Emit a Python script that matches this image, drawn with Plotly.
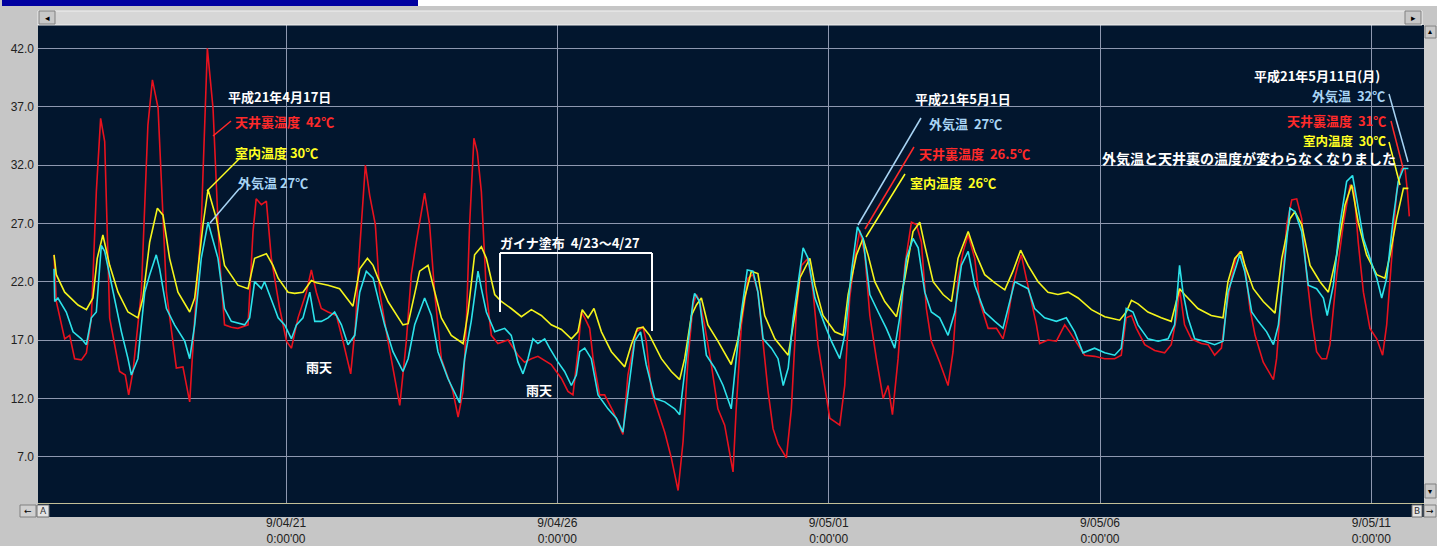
import pandas as pd
import plotly.graph_objects as go

START = pd.Timestamp("2009-04-16 00:00")

# (hours since 2009-04-16 00:00, temperature in degC)
attic = [  # 天井裏温度 (red)
    (17.4, 24.3), (18.4, 20.3), (22.1, 17.1), (24.3, 17.4), (26.5, 15.4), (29.5, 15.3), (31.7, 15.9), (33.9, 18.9),
    (36.1, 29.7), (38.0, 36.0), (39.8, 34.0), (42.0, 18.9), (46.4, 14.3), (48.9, 14.0), (50.4, 12.3), (52.3, 14.3),
    (56.0, 21.1), (58.9, 35.4), (60.9, 39.3), (63.4, 36.9), (67.1, 21.1), (71.5, 14.6), (74.4, 14.7), (77.4, 11.7),
    (79.6, 18.9), (82.5, 26.9), (85.2, 42.0), (87.7, 36.9), (90.6, 24.0), (92.8, 18.3), (95.8, 18.1), (98.7, 18.0),
    (103.2, 18.3), (105.4, 26.3), (106.8, 29.1), (109.1, 28.6), (111.3, 28.9), (113.5, 24.0), (117.2, 19.7),
    (120.2, 16.9), (122.4, 16.3), (125.3, 18.9), (129.0, 21.1), (131.2, 23.0), (133.4, 21.1), (135.6, 19.7),
    (138.6, 19.4), (142.3, 19.1), (145.2, 16.9), (148.6, 14.1), (150.7, 18.3), (152.3, 24.0), (155.1, 32.0),
    (157.0, 29.4), (159.5, 26.9), (161.4, 21.1), (165.1, 16.9), (170.3, 11.4), (173.2, 16.9), (175.4, 22.6),
    (177.6, 25.4), (181.3, 29.6), (183.5, 26.9), (185.7, 21.1), (188.7, 15.4), (193.8, 12.6), (196.1, 10.4),
    (198.3, 12.6), (199.7, 18.3), (201.2, 26.9), (203.1, 34.3), (204.6, 33.1), (206.4, 29.7), (208.6, 21.1),
    (210.8, 17.4), (213.7, 16.7), (218.2, 17.0), (219.6, 16.6), (222.6, 15.7), (225.5, 15.1),
    (228.5, 15.4), (231.4, 15.6), (237.3, 14.9), (241.8, 13.7), (244.7, 12.6), (246.9, 12.3), (249.1, 16.0),
    (250.6, 19.4), (252.1, 18.9), (254.3, 18.0), (255.8, 15.4), (258.7, 12.3), (260.9, 12.3), (264.6, 10.9),
    (269.0, 8.9), (271.2, 14.0), (274.9, 17.7), (277.9, 18.1), (279.3, 16.9), (281.6, 12.6), (284.5, 10.9),
    (287.5, 9.1), (290.4, 6.9), (293.4, 4.1), (295.6, 8.3), (297.8, 15.4), (300.0, 20.0), (301.5, 20.9),
    (302.9, 20.3), (305.1, 18.3), (308.1, 14.9), (311.0, 11.1), (314.0, 9.7), (316.2, 7.4), (317.7, 5.7),
    (319.1, 11.1), (321.4, 18.3), (324.3, 22.3), (326.5, 22.6), (328.7, 21.1),
    (331.0, 16.9), (333.2, 12.6), (335.4, 9.4), (337.6, 8.1), (341.3, 6.9), (343.5, 11.1), (345.8, 19.7),
    (348.0, 23.4), (350.9, 24.0), (353.1, 21.1), (355.3, 16.6), (358.3, 13.1), (360.5, 10.3), (362.7, 10.0),
    (364.9, 9.7), (367.1, 13.1), (369.3, 20.6), (371.5, 24.0), (373.8, 26.4), (376.0, 24.3), (378.2, 19.1),
    (381.1, 15.4), (384.1, 12.0), (386.3, 13.1), (388.2, 10.6), (390.7, 15.4), (393.7, 23.4), (396.6, 27.1),
    (398.8, 26.9), (401.0, 25.4), (403.2, 19.7), (405.4, 16.9), (409.1, 15.1), (412.8, 13.1), (415.0, 16.0),
    (417.2, 22.3), (419.5, 24.6), (421.7, 26.0), (424.6, 24.0), (426.8, 20.3), (430.5, 18.0), (434.2, 18.0),
    (437.1, 17.1), (439.3, 18.9), (441.5, 21.7), (443.7, 23.4), (445.2, 24.3), (447.4, 22.3), (449.6, 20.3),
    (451.9, 18.3), (453.3, 16.7), (457.0, 17.0), (460.7, 16.9), (464.4, 18.3), (466.6, 17.7), (470.3, 16.6),
    (473.2, 15.7), (477.6, 15.6), (482.1, 15.4), (486.5, 15.4), (489.4, 15.7), (491.6, 18.9), (493.9, 19.1),
    (496.1, 18.0), (499.8, 16.6), (504.2, 16.1), (508.6, 15.9), (511.5, 16.6), (513.8, 18.9), (515.2, 21.4),
    (517.4, 18.3), (520.4, 17.1), (524.8, 16.7), (527.8, 16.6), (530.7, 15.7), (533.7, 16.3), (535.9, 19.7),
    (538.1, 22.3), (540.3, 24.1), (541.9, 24.6), (544.1, 23.4), (546.3, 19.7), (548.6, 17.4), (552.2, 15.1),
    (554.5, 14.3), (556.7, 13.6), (558.1, 15.4), (560.4, 21.1), (562.6, 26.9), (564.8, 29.0), (567.0, 29.1),
    (569.2, 27.4), (571.4, 22.6), (573.6, 18.9), (575.8, 16.0), (578.0, 15.4), (580.2, 15.4), (581.7, 16.6),
    (584.7, 22.6), (587.6, 26.9), (590.6, 30.3), (592.3, 30.0), (594.2, 25.4), (596.5, 21.1), (599.4, 18.0),
    (602.4, 17.1), (605.0, 15.7), (606.8, 18.3), (609.0, 24.0), (611.2, 29.7), (613.4, 31.7), (614.9, 31.7),
    (616.0, 29.7), (616.8, 27.6),
]

indoor = [  # 室内温度 (yellow)
    (17.4, 24.3), (18.4, 22.6), (22.1, 21.1), (28.0, 20.0), (31.7, 19.6), (34.6, 20.6), (36.5, 24.0), (39.0, 26.0),
    (42.0, 23.4), (45.7, 21.1), (50.1, 19.4), (54.5, 18.9), (56.7, 20.6), (59.7, 25.4), (63.1, 28.3), (65.6, 27.7),
    (68.5, 24.0), (72.2, 21.1), (77.4, 19.4), (79.6, 20.6), (83.3, 26.9), (85.5, 29.9), (89.2, 27.4), (92.8, 23.4),
    (98.7, 21.7), (103.2, 21.4), (106.1, 24.0), (111.3, 24.4), (114.2, 23.4), (116.5, 22.3), (120.9, 21.1),
    (123.8, 21.0), (127.5, 21.1), (131.2, 22.1), (133.4, 21.9), (138.6, 21.7), (143.7, 21.4), (146.7, 20.6),
    (149.6, 19.9), (152.6, 23.1), (156.0, 24.0), (158.5, 23.4), (160.7, 22.3), (165.1, 20.3), (171.7, 18.3),
    (174.0, 18.4), (176.9, 21.1), (179.1, 22.9), (182.8, 23.4), (185.0, 21.7), (188.7, 18.9), (193.1, 17.4),
    (198.3, 16.7), (200.5, 19.4), (203.4, 24.3), (206.4, 25.0), (208.6, 24.0), (212.3, 20.9), (215.2, 20.3),
    (219.6, 19.7), (224.1, 19.0), (228.5, 19.6), (232.9, 19.1), (237.3, 18.3), (241.8, 17.9), (246.2, 17.1),
    (249.1, 17.7), (251.0, 19.6), (253.6, 18.9), (256.2, 19.7), (259.5, 17.7), (263.9, 16.0), (269.8, 14.7),
    (272.7, 16.6), (275.4, 18.0), (277.9, 18.1), (280.8, 17.4), (286.0, 15.4), (290.4, 14.3), (294.1, 13.6),
    (296.3, 15.4), (299.3, 19.1), (301.5, 20.0), (303.7, 20.6), (306.6, 18.3), (311.0, 16.9), (316.9, 14.9),
    (319.9, 17.1), (322.8, 20.6), (325.8, 22.9), (328.7, 22.7), (331.7, 19.1), (336.2, 17.1), (342.1, 15.7),
    (345.0, 19.1), (347.2, 22.3), (351.7, 24.0), (353.9, 21.7), (357.5, 19.1), (362.7, 17.7), (366.4, 17.4),
    (368.6, 20.9), (372.3, 24.3), (375.2, 25.7), (377.4, 24.3), (380.4, 22.0), (384.8, 20.3), (390.0, 19.0),
    (393.7, 22.3), (397.3, 26.3), (400.3, 27.1), (402.5, 25.1), (406.2, 22.0), (410.6, 20.9), (414.3, 20.3),
    (417.2, 24.0), (421.7, 26.3), (424.6, 24.6), (429.0, 22.6), (433.5, 21.9), (437.9, 21.3), (441.5, 22.9),
    (444.9, 24.7), (448.2, 23.4), (452.6, 22.0), (457.0, 21.1), (461.4, 20.9), (465.9, 21.1), (470.3, 20.6),
    (476.2, 19.6), (482.1, 19.0), (488.7, 18.7), (491.6, 19.4), (493.9, 20.4), (496.8, 20.1), (501.2, 19.4),
    (507.1, 18.9), (511.5, 18.6), (515.2, 21.4), (517.4, 20.9), (523.3, 19.7), (529.2, 19.1), (534.4, 18.9),
    (536.6, 22.0), (539.6, 24.0), (542.5, 24.6), (544.1, 23.4), (547.8, 21.4), (552.2, 20.3), (557.4, 19.3),
    (560.4, 24.0), (564.0, 27.4), (566.2, 28.0), (569.2, 26.9), (572.9, 23.4), (577.3, 22.0), (581.0, 21.1),
    (584.7, 24.3), (588.4, 28.6), (591.3, 30.3), (594.2, 27.1), (597.9, 24.3), (602.4, 22.6), (606.0, 22.3),
    (608.3, 24.3), (611.2, 27.4), (614.2, 30.0), (616.4, 30.0),
]

outdoor = [  # 外気温 (cyan)
    (17.4, 23.1), (17.7, 20.3), (19.1, 20.6), (22.8, 19.4), (25.8, 17.7), (29.5, 17.1), (31.7, 16.6), (33.9, 18.9),
    (36.1, 19.4), (38.3, 25.1), (39.8, 24.6), (43.5, 21.1), (47.2, 17.7), (50.1, 15.4), (51.6, 14.0), (54.5, 15.4),
    (57.5, 21.1), (59.7, 22.6), (62.6, 24.3), (64.1, 23.1), (67.1, 19.7), (70.7, 18.3), (75.2, 16.9), (77.4, 15.4),
    (79.6, 18.3), (82.5, 24.0), (85.5, 27.1), (89.9, 24.0), (92.8, 19.7), (95.8, 18.6), (101.7, 18.3), (103.9, 18.9),
    (106.1, 22.0), (109.1, 21.4), (110.5, 22.0), (115.0, 19.7), (116.5, 18.9), (119.4, 18.3), (122.4, 17.1),
    (124.6, 18.3), (127.5, 18.9), (130.5, 21.1), (132.7, 18.6), (135.6, 18.6), (138.6, 18.9), (141.5, 19.4),
    (144.5, 18.3), (147.4, 16.6), (150.4, 17.4), (152.6, 21.1), (155.5, 22.9), (158.5, 22.3), (160.7, 20.6),
    (163.6, 18.3), (167.3, 16.0), (171.7, 14.3), (174.0, 15.4), (176.9, 18.3), (181.3, 20.6), (184.3, 19.1),
    (187.2, 16.0), (191.6, 13.7), (196.8, 11.6), (199.0, 15.4), (201.9, 18.6), (204.9, 22.9), (206.4, 21.4),
    (208.6, 19.4), (212.3, 17.7), (216.7, 18.0), (219.6, 17.4), (222.6, 15.1), (224.8, 14.1), (227.0, 15.4),
    (229.2, 17.1), (231.4, 16.7), (234.4, 17.1), (236.6, 16.3), (240.3, 15.1), (243.2, 14.3), (246.2, 13.1),
    (248.4, 14.0), (249.9, 16.0), (252.1, 16.3), (255.0, 15.4), (258.0, 12.3), (262.4, 11.1), (266.1, 10.3),
    (269.0, 9.1), (271.2, 12.6), (274.2, 16.9), (276.8, 17.7), (279.3, 14.9), (283.0, 12.0), (287.5, 11.7),
    (291.9, 11.1), (294.1, 10.6), (295.6, 13.1), (297.8, 16.9), (300.0, 20.3), (300.7, 21.0), (302.9, 20.3),
    (305.9, 15.7), (309.6, 14.6), (313.3, 13.1), (316.9, 11.1), (319.1, 15.4), (321.4, 19.4), (324.0, 23.0),
    (326.5, 22.9), (328.7, 21.1), (331.0, 17.1), (334.7, 16.3), (337.6, 15.4), (339.9, 13.1), (342.1, 14.6),
    (344.3, 18.9), (346.5, 22.0), (348.7, 24.9), (350.9, 24.0), (353.9, 20.6), (358.3, 18.3), (361.2, 16.9),
    (364.9, 15.4), (367.4, 17.7), (370.1, 22.9), (372.7, 26.7), (375.2, 25.7), (378.2, 20.9), (381.9, 19.4),
    (385.5, 18.0), (389.2, 16.3), (391.4, 18.9), (394.4, 24.0), (397.3, 25.7), (399.6, 24.9), (402.5, 21.1),
    (405.4, 19.4), (409.1, 18.9), (412.8, 17.4), (415.8, 19.4), (418.7, 23.4), (421.7, 24.6), (424.6, 21.7),
    (429.0, 19.4), (433.5, 18.6), (437.1, 18.0), (440.1, 20.3), (442.3, 22.0), (445.2, 21.7), (448.2, 21.4),
    (451.1, 19.7), (455.5, 18.9), (460.7, 18.6), (465.1, 18.9), (468.8, 17.7), (472.5, 15.9), (477.6, 16.3),
    (482.1, 15.9), (486.5, 15.7), (489.4, 16.3), (491.6, 19.7), (494.6, 19.4), (496.8, 18.3), (501.2, 17.1),
    (505.7, 16.9), (510.1, 17.1), (513.0, 18.3), (515.2, 23.4), (516.7, 21.1), (518.9, 18.9), (521.9, 17.1),
    (526.3, 16.9), (530.7, 16.6), (534.4, 16.9), (536.6, 21.1), (539.6, 22.9), (541.8, 24.3), (544.0, 22.9),
    (547.1, 19.4), (550.0, 18.6), (553.7, 17.7), (556.7, 16.6), (558.9, 18.3), (561.1, 22.6), (564.0, 28.3),
    (566.2, 28.0), (569.2, 26.3), (572.1, 21.7), (575.8, 21.4), (578.8, 20.6), (580.5, 19.1), (583.2, 21.7),
    (586.1, 26.9), (589.1, 30.6), (591.7, 31.1), (593.5, 29.1), (596.5, 25.7), (599.4, 24.0), (602.4, 22.3),
    (604.6, 20.6), (606.8, 22.3), (609.7, 27.4), (611.9, 30.6), (614.2, 31.7), (616.4, 31.7),
]

tick_dates = ["2009-04-21", "2009-04-26", "2009-05-01", "2009-05-06", "2009-05-11"]
tick_labels = ["9/04/21<br>0:00'00", "9/04/26<br>0:00'00", "9/05/01<br>0:00'00",
               "9/05/06<br>0:00'00", "9/05/11<br>0:00'00"]
y_ticks = [7, 12, 17, 22, 27, 32, 37, 42]
y_labels = ["7.0", "12.0", "17.0", "22.0", "27.0", "32.0", "37.0", "42.0"]

RED = "#e8121e"
YEL = "#f4f41c"
CYN = "#2ce2ea"
TXT_RED = "#ff2a2a"
TXT_YEL = "#ffff22"
TXT_BLU = "#a8d4f4"
WHITE = "#ffffff"
BG = "#02162e"
GRID = "#8e98b0"


def to_time(series):
    hours = [h for h, _ in series]
    temps = [t for _, t in series]
    return START + pd.to_timedelta(hours, unit="h"), temps


fig = go.Figure()
for series, color, name in [(attic, RED, "天井裏温度"), (indoor, YEL, "室内温度"), (outdoor, CYN, "外気温")]:
    x, y = to_time(series)
    fig.add_trace(go.Scatter(x=x, y=y, mode="lines", name=name,
                             line=dict(color=color, width=1.6), hoverinfo="skip"))

W, H = 1437, 546
L, R, T, B = 38, 1424, 25, 503


def px(x):
    return (x - L) / (R - L)


def py(y):
    return (B - y) / (B - T)


annotations = []
shapes = []


def text(s, x, y, color, size=13, anchor="left"):
    annotations.append(dict(text="<b>" + s + "</b>", x=px(x), y=py(y), xref="paper", yref="paper",
                            xanchor=anchor, yanchor="middle", showarrow=False, borderpad=0,
                            font=dict(color=color, size=size, family="Noto Sans CJK JP")))


def seg(x0, y0, x1, y1, color, width=1.5):
    shapes.append(dict(type="line", xref="paper", yref="paper", x0=px(x0), y0=py(y0),
                       x1=px(x1), y1=py(y1), line=dict(color=color, width=width)))


def box(x0, y0, x1, y1, fill, line=None, lw=1):
    shapes.append(dict(type="rect", xref="paper", yref="paper", x0=px(x0), y0=py(y0),
                       x1=px(x1), y1=py(y1), fillcolor=fill, layer="above",
                       line=dict(color=line if line else fill, width=lw if line else 0)))


# --- annotations: 4/17 group
text("平成21年4月17日", 227, 97, WHITE)
text("天井裏温度  42℃", 234, 122, TXT_RED)
text("室内温度 30℃", 234, 152, TXT_YEL)
text("外気温 27℃", 237, 182, TXT_BLU)
seg(231, 121, 213, 136, TXT_RED)
seg(240, 158, 207, 191, TXT_YEL)
seg(239, 189, 210, 223, TXT_BLU)

# rainy days
text("雨天", 305, 366, WHITE)
text("雨天", 525, 389, WHITE)

# Gaina coating bracket
text("ガイナ塗布  4/23〜4/27", 499, 242, WHITE)
seg(500, 312, 500, 253, WHITE, 2)
seg(500, 253, 652, 253, WHITE, 2)
seg(652, 253, 652, 331, WHITE, 2)

# 5/1 group
text("平成21年5月1日", 914, 98, WHITE)
text("外気温  27℃", 928, 123, TXT_BLU)
text("天井裏温度  26.5℃", 918, 153, TXT_RED)
text("室内温度  26℃", 909, 182, TXT_YEL)
seg(921, 118, 858, 225, TXT_BLU)
seg(914, 147, 865, 229, TXT_RED)
seg(905, 174, 866, 237, TXT_YEL)

# 5/11 group
text("平成21年5月11日(月)", 1253, 75, WHITE)
text("外気温  32℃", 1386, 95, TXT_BLU, anchor="right")
text("天井裏温度  31℃", 1387, 120, TXT_RED, anchor="right")
text("室内温度  30℃", 1387, 140, TXT_YEL, size=12.5, anchor="right")
text("外気温と天井裏の温度が変わらなくなりました", 1101, 158, WHITE, size=14)
seg(1389, 94, 1408, 162, TXT_BLU)
seg(1391, 121, 1403, 168, TXT_RED)
seg(1389, 142, 1400, 185, TXT_YEL)

# --- window chrome
box(2, 0, 418, 6, "#0000a0")
box(418, 0, W, 6, "#ffffff")
box(38, 11, 1422, 25, "#d6d6d6", "#f0f0f0")
box(39, 11, 55, 24, "#c8c8c8", "#808080")
box(1405, 11, 1421, 24, "#c8c8c8", "#808080")
box(1424, 25, W, 517, "#d0d0d0")
box(1425, 26, 1436, 38, "#c8c8c8", "#808080")
box(1425, 484, 1436, 498, "#c8c8c8", "#808080")
box(38, 503, 1424, 517, BG)
seg(38, 503.5, 1424, 503.5, "#c2bf98", 1.2)
box(20, 505, 36, 517, "#d0d0d0", "#808080")
box(37, 505, 49, 517, "#e4e4e4", "#707070")
box(1412, 505, 1422, 517, "#e4e4e4", "#707070")
box(1424, 505, 1436, 517, "#d0d0d0", "#808080")


def glyph(s, x, y, size=9, color="#000000"):
    annotations.append(dict(text=s, x=px(x), y=py(y), xref="paper", yref="paper",
                            xanchor="center", yanchor="middle", showarrow=False,
                            borderpad=0, font=dict(color=color, size=size, family="DejaVu Sans")))


glyph("◂", 47, 18)
glyph("▸", 1413, 18)
glyph("▴", 1430, 32, 8)
glyph("▾", 1430, 491, 8)
glyph("←", 28, 511, 9)
glyph("A", 43, 511, 9, "#303030")
glyph("B", 1417, 511, 9, "#303030")
glyph("→", 1430, 511, 9)

fig.update_layout(
    width=W, height=H,
    margin=dict(l=L, r=W - R, t=T, b=H - B, pad=0, autoexpand=False),
    paper_bgcolor="#c6c6c6",
    plot_bgcolor=BG,
    showlegend=False,
    font=dict(family="Noto Sans CJK JP", size=12),
    annotations=annotations,
    shapes=shapes,
    xaxis=dict(
        type="date",
        range=["2009-04-16 10:18", "2009-05-11 23:18"],
        tickvals=tick_dates, ticktext=tick_labels,
        showgrid=True, gridcolor=GRID, gridwidth=1,
        zeroline=False, showline=False, ticks="",
        tickfont=dict(family="Liberation Sans", size=12, color="#202020"),
        ticklabelstandoff=11,
        automargin=False,
        fixedrange=True,
    ),
    yaxis=dict(
        range=[3.03, 44.0],
        tickvals=y_ticks, ticktext=y_labels,
        showgrid=True, gridcolor=GRID, gridwidth=1,
        zeroline=False, showline=False, ticks="",
        tickfont=dict(family="Liberation Sans", size=12, color="#202020"),
        ticklabelstandoff=3,
        automargin=False,
        fixedrange=True,
    ),
)

fig.write_html(
    "out.html",
    config={"displayModeBar": False, "staticPlot": True},
    post_script="document.body.style.margin='0';document.body.style.overflow='hidden';",
)
